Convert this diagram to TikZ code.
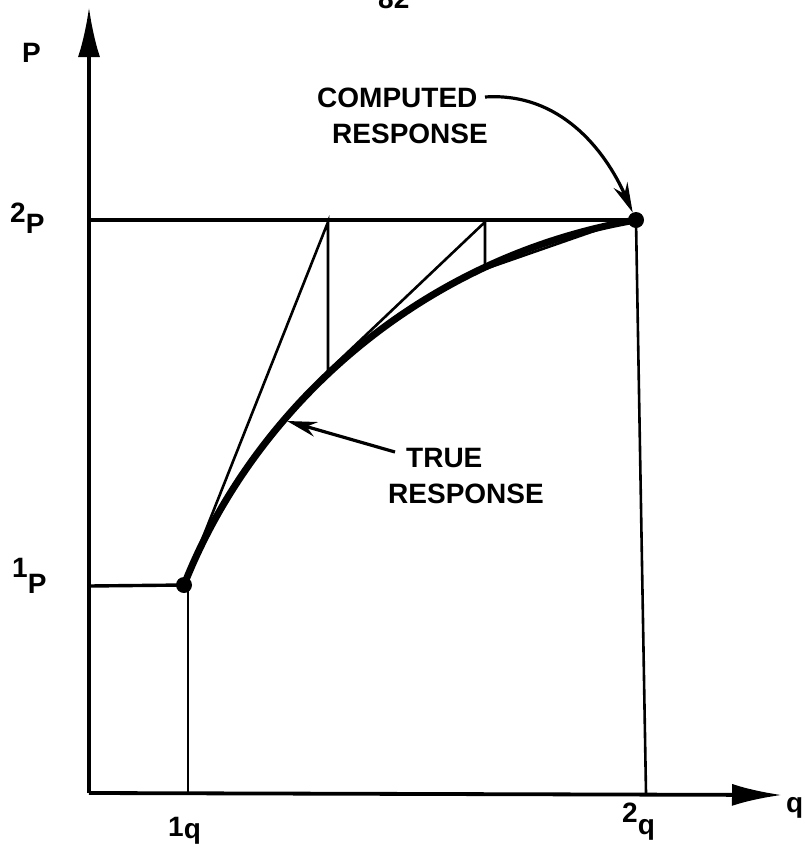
\documentclass[tikz,border=0pt]{standalone}
\usepackage{fontspec}
\setmainfont{Liberation Sans}
\usetikzlibrary{arrows.meta}
\begin{document}
\begin{tikzpicture}[x=1pt,y=-1pt,
  lbl/.style={font=\bfseries\fontsize{28}{30}\selectfont, inner sep=0pt, anchor=base west},
  axis/.style={line width=3.8pt},
  guide/.style={line width=3.4pt},
  thinln/.style={line width=2.6pt},
  truecurve/.style={line width=7pt},
  dotn/.style={circle, fill, inner sep=0pt, minimum size=16pt},
  callout/.style={line width=3.2pt, -{Stealth[length=30pt,width=15pt]}}]
\useasboundingbox (0,0) rectangle (804,849);
% axes
\coordinate (O) at (89,793);
\coordinate (Ytip) at (89,7);
\coordinate (Xtip) at (782,795);
\draw[axis,-{Latex[length=50pt,width=22pt]}] (O) -- (Ytip);
\draw[axis,-{Latex[length=50pt,width=22pt]}] (O) -- (Xtip);
% points
\node[dotn] (d1) at (184,585) {};
\node[dotn] (d2) at (636,220) {};
\coordinate (P1L) at (89,586);
\coordinate (P2L) at (89,220);
\coordinate (q1top) at (188,585);
\coordinate (q1foot) at (188,793);
\coordinate (q2foot) at (646,793);
\draw[guide] (P1L) -- (d1.center);
\draw[guide] (P2L) -- (d2.center);
\draw[thinln] (q1top) -- (q1foot);
\draw[thinln] (d2.center) -- (q2foot);
% true response
\draw[truecurve] (d1.center) .. controls (252,412) and (415,258) .. (d2.center);
% computed steps
\coordinate (t1) at (328,222);
\coordinate (c1) at (328,371);
\coordinate (t2) at (485,222);
\coordinate (c2) at (485,269);
\coordinate (t3) at (620,222);
\draw[thinln, line join=miter] (d1.center) -- (t1) -- (c1) -- (t2) -- (c2) -- (t3);
% labels
\node[lbl] (pg) at (378,8) {82};
\node[lbl] (lP) at (22,62) {P};
\node[lbl] (l2P) at (10,233) {\raisebox{11pt}{2}P};
\node[lbl] (l1P) at (12,593) {\raisebox{16pt}{1}P};
\node[lbl] (l1q) at (168,838) {\raisebox{2pt}{1}q};
\node[lbl] (l2q) at (622,834) {\raisebox{12pt}{2}q};
\node[lbl] (lq) at (786,812) {q};
\node[lbl] (comp1) at (317,107) {COMPUTED};
\node[lbl] (comp2) at (332,143) {RESPONSE};
\node[lbl] (true1) at (406,467) {TRUE};
\node[lbl] (true2) at (388,503) {RESPONSE};
% callouts
\coordinate (cs) at (485,97);
\draw[callout] (cs) .. controls (560,92) and (605,150) .. (d2);
\coordinate (ts) at (395,452);
\coordinate (ta) at (287,421);
\draw[callout] (ts) -- (ta);
\end{tikzpicture}
\end{document}
